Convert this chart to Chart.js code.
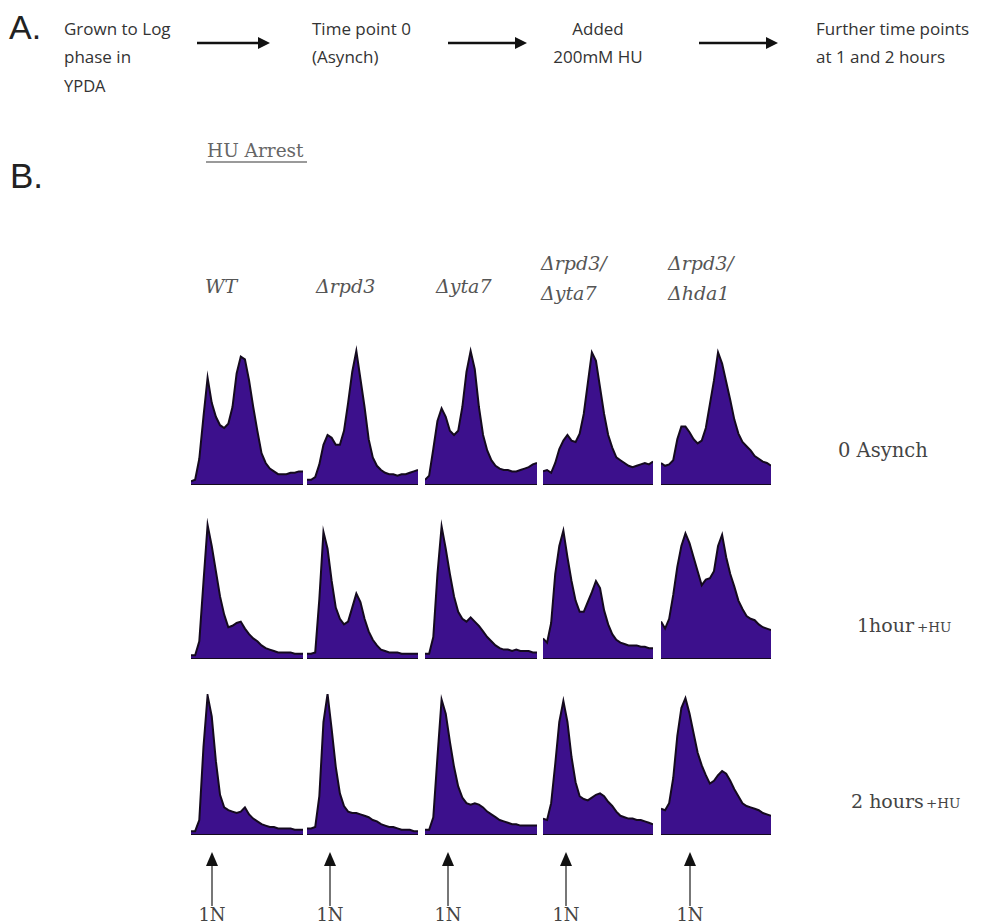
<!DOCTYPE html>
<html>
<head>
<meta charset="utf-8">
<script src="https://cdn.jsdelivr.net/npm/chart.js@4.4.1/dist/chart.umd.min.js"></script>
<style>
  html, body { margin: 0; padding: 0; background: #ffffff; }
  #stage { position: relative; width: 987px; height: 922px; overflow: hidden; background: #fff; }
  #stage canvas { position: absolute; }
  #overlay { position: absolute; left: 0; top: 0; }
</style>
</head>
<body>
<div id="stage">
<svg id="overlay" width="987" height="922" xmlns="http://www.w3.org/2000/svg"></svg>
</div>
<script>
// ---------- DATA ----------
const STRAINS = ['WT', 'Δrpd3', 'Δyta7', 'Δrpd3/Δyta7', 'Δrpd3/Δhda1'];
const TIMEPOINTS = ['0 Asynch', '1hour +HU', '2 hours +HU'];
const BINS = [0,1,2,3,4,5,6,7,8,9,10,11,12,13,14,15,16,17,18,19,20,21,22,23,24,25,26,27];

// 0 Asynch
const wt_asynch       = [2,3,18,48,76,58,48,42,40,43,55,79,91,89,74,55,38,22,15,11,9,7,7,7,8,8,9,9];
const rpd3_asynch     = [3,3,5,14,28,35,33,28,28,38,58,80,95,75,55,32,19,13,10,8,7,7,6,7,7,8,9,10];
const yta7_asynch     = [3,6,25,45,54,48,38,35,38,55,80,95,82,55,35,24,17,13,11,10,10,9,9,10,11,12,14,15];
const rpd3yta7_asynch = [9,10,8,15,25,31,35,31,30,36,50,72,94,88,69,50,35,26,19,17,15,13,12,13,14,15,14,16];
const rpd3hda1_asynch = [15,13,14,17,32,41,41,37,32,29,31,40,57,74,94,86,73,60,46,36,30,27,24,20,18,16,15,13];

// 1 hour +HU
const wt_1h           = [2,2,12,54,95,80,62,44,31,22,23,25,26,21,17,14,12,9,7,6,5,4,4,4,4,3,3,3];
const rpd3_1h         = [3,3,4,42,90,78,55,36,28,24,26,36,46,40,28,19,13,9,6,5,4,4,4,3,3,3,3,3];
const yta7_1h         = [3,3,15,60,94,78,60,44,33,28,26,29,26,23,19,15,12,9,7,6,6,5,6,5,5,5,4,4];
const rpd3yta7_1h     = [14,11,25,60,80,91,72,55,41,33,33,40,47,55,50,34,24,17,13,11,10,9,9,9,8,8,7,7];
const rpd3hda1_1h     = [26,21,28,45,65,80,89,82,72,62,52,56,57,62,80,88,72,60,51,41,35,30,28,27,24,22,21,20];

// 2 hours +HU
const wt_2h           = [2,2,10,62,99,84,52,28,19,17,16,15,16,19,14,11,9,7,6,5,5,4,4,4,4,3,3,3];
const rpd3_2h         = [4,4,5,27,80,100,75,48,29,20,16,15,15,14,13,12,10,9,7,6,5,5,4,3,3,3,2,2];
const yta7_2h         = [3,3,12,55,96,86,66,48,34,26,22,21,22,21,19,16,14,12,10,9,8,7,7,6,6,6,6,6];
const rpd3yta7_2h     = [11,10,22,50,80,95,80,55,37,27,25,24,26,28,29,27,23,20,16,13,12,11,11,10,10,9,8,7];
const rpd3hda1_2h     = [18,17,22,40,70,90,97,86,72,58,49,42,36,38,42,45,43,38,32,27,22,20,19,18,17,15,14,13];

const SERIES = [
  [wt_asynch, rpd3_asynch, yta7_asynch, rpd3yta7_asynch, rpd3hda1_asynch],
  [wt_1h, rpd3_1h, yta7_1h, rpd3yta7_1h, rpd3hda1_1h],
  [wt_2h, rpd3_2h, yta7_2h, rpd3yta7_2h, rpd3hda1_2h]
];

// ---------- LAYOUT ----------
const COL_LEFT  = [191, 307, 425, 543, 661];
const COL_WIDTH = [112, 111, 112, 110, 110];
const ROW_BASE  = [484, 658, 834];
const PANEL_H   = 140;
const FILL = '#3c108c';
const EDGE = '#140a1e';

const stage = document.getElementById('stage');
for (let r = 0; r < 3; r++) {
  for (let c = 0; c < 5; c++) {
    const cv = document.createElement('canvas');
    cv.width = COL_WIDTH[c];
    cv.height = PANEL_H + 2;
    cv.style.left = COL_LEFT[c] + 'px';
    cv.style.top = (ROW_BASE[r] - PANEL_H - 1) + 'px';
    cv.style.width = COL_WIDTH[c] + 'px';
    cv.style.height = (PANEL_H + 2) + 'px';
    stage.appendChild(cv);
    new Chart(cv.getContext('2d'), {
      type: 'line',
      data: {
        labels: BINS,
        datasets: [{
          label: STRAINS[c] + ' ' + TIMEPOINTS[r],
          data: SERIES[r][c],
          fill: 'origin',
          backgroundColor: FILL,
          borderColor: EDGE,
          borderWidth: 2,
          pointRadius: 0,
          tension: 0
        }]
      },
      options: {
        responsive: false,
        animation: false,
        devicePixelRatio: 1,
        events: [],
        layout: { padding: { top: 1, bottom: 1, left: 0, right: 0 } },
        plugins: { legend: { display: false }, tooltip: { enabled: false } },
        scales: {
          x: {
            display: true,
            grid: { display: false, drawTicks: false },
            ticks: { display: false },
            border: { display: true, color: EDGE, width: 2 }
          },
          y: { display: false, min: 0, max: 100 }
        }
      }
    });
  }
}

// ---------- TEXT & ANNOTATIONS ----------
const svg = document.getElementById('overlay');
const NS = 'http://www.w3.org/2000/svg';
function txt(s, x, y, font, size, fill, opts) {
  const t = document.createElementNS(NS, 'text');
  t.setAttribute('x', x); t.setAttribute('y', y);
  t.setAttribute('font-family', font);
  t.setAttribute('font-size', size);
  t.setAttribute('fill', fill);
  if (opts && opts.italic) t.setAttribute('font-style', 'italic');
  if (opts && opts.anchor) t.setAttribute('text-anchor', opts.anchor);
  t.textContent = s;
  svg.appendChild(t);
  return t;
}
function el(name, attrs) {
  const e = document.createElementNS(NS, name);
  for (const k in attrs) e.setAttribute(k, attrs[k]);
  svg.appendChild(e);
  return e;
}
function hArrow(x1, x2, y) {
  el('line', { x1: x1, y1: y, x2: x2 - 9, y2: y, stroke: '#111', 'stroke-width': 2.5 });
  el('polygon', { points: `${x2-12},${y-6} ${x2},${y} ${x2-12},${y+6}`, fill: '#111' });
}

const SANS = "'Open Sans', sans-serif";
const SERIF = "'DejaVu Serif', serif";
const TOP = 17;

// Panel A
txt('A.', 9, 39, "'Liberation Sans', Arial, sans-serif", 34, '#222');
txt('Grown to Log', 64, 35, SANS, TOP, '#333');
txt('phase in', 64, 63, SANS, TOP, '#333');
txt('YPDA', 64, 92, SANS, 16.5, '#333');
txt('Time point 0', 312, 35, SANS, TOP, '#333');
txt('(Asynch)', 312, 63, SANS, TOP, '#333');
txt('Added', 598, 35, SANS, TOP, '#333', { anchor: 'middle' });
txt('200mM HU', 598, 63, SANS, TOP, '#333', { anchor: 'middle' });
txt('Further time points', 816, 35, SANS, TOP, '#333');
txt('at 1 and 2 hours', 816, 63, SANS, TOP, '#333');
hArrow(197, 270, 43);
hArrow(448, 527, 43);
hArrow(699, 778, 43);

// Panel B
txt('B.', 10, 188, "'Liberation Sans', Arial, sans-serif", 35, '#222');
txt('HU Arrest', 207, 157, SERIF, 18.5, '#666');
el('line', { x1: 206, y1: 162, x2: 307, y2: 162, stroke: '#9a9a9a', 'stroke-width': 2 });

// column headers
const HFONT = 19;
txt('WT', 205, 293, SERIF, HFONT, '#555', { italic: true });
txt('Δrpd3', 316, 293, SERIF, HFONT, '#555', { italic: true });
txt('Δyta7', 436, 293, SERIF, HFONT, '#555', { italic: true });
txt('Δrpd3/', 541, 270, SERIF, HFONT, '#555', { italic: true });
txt('Δyta7', 541, 300, SERIF, HFONT, '#555', { italic: true });
txt('Δrpd3/', 668, 270, SERIF, HFONT, '#555', { italic: true });
txt('Δhda1', 668, 300, SERIF, HFONT, '#555', { italic: true });

// row labels
txt('0 Asynch', 838, 457, SERIF, 19.5, '#444');
txt('1hour', 857, 632, SERIF, 19, '#444');
txt('+HU', 917, 632, SERIF, 13.5, '#444');
txt('2 hours', 851, 808, SERIF, 19, '#444');
txt('+HU', 926, 808, SERIF, 13.5, '#444');

// 1N arrows
const ONE_N_X = [212, 330, 448, 566, 690];
ONE_N_X.forEach(x => {
  el('line', { x1: x, y1: 864, x2: x, y2: 906, stroke: '#777', 'stroke-width': 2 });
  el('polygon', { points: `${x-6},${866} ${x},${852} ${x+6},${866}`, fill: '#111' });
  txt('1N', x, 921, SERIF, 18, '#444', { anchor: 'middle' });
});
</script>
</body>
</html>
